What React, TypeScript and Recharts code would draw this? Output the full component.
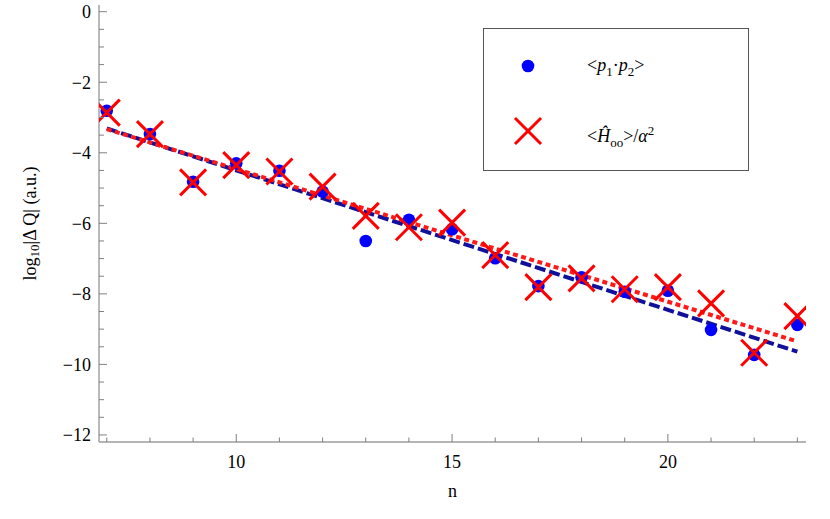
import React from "react";
import { ComposedChart, Legend, Line, Scatter, XAxis, YAxis } from "recharts";

// n values and the two measured quantities (log10 of |ΔQ|)
const nValues = [7, 8, 9, 10, 11, 12, 13, 14, 15, 16, 17, 18, 19, 20, 21, 22, 23];
const p1p2Values = [-2.81, -3.47, -4.82, -4.3, -4.51, -5.1, -6.5, -5.9, -6.17, -6.99, -7.78, -7.53, -7.94, -7.91, -9.02, -9.73, -8.88];
const hooValues = [-2.86, -3.47, -4.84, -4.35, -4.53, -4.96, -5.79, -6.11, -5.98, -6.9, -7.81, -7.56, -7.87, -7.81, -8.27, -9.67, -8.63];

// linear fits, end points only
const fitN = [7, 23];
const p1p2Fit = [-3.31, -9.64];
const hooFit = [-3.33, -9.35];

const xTicks = [7, 8, 9, 10, 11, 12, 13, 14, 15, 16, 17, 18, 19, 20, 21, 22, 23];
const xMajor = [10, 15, 20];
const yTicks = [0, -0.5, -1, -1.5, -2, -2.5, -3, -3.5, -4, -4.5, -5, -5.5, -6, -6.5, -7, -7.5, -8, -8.5, -9, -9.5, -10, -10.5, -11, -11.5, -12];
const yMajor = [0, -2, -4, -6, -8, -10, -12];

const dots = nValues.map((n, i) => ({ n, v: p1p2Values[i] }));
const crosses = nValues.map((n, i) => ({ n, v: hooValues[i] }));
const dotFit = fitN.map((n, i) => ({ n, v: p1p2Fit[i] }));
const crossFit = fitN.map((n, i) => ({ n, v: hooFit[i] }));

const FONT = "Liberation Serif, Times New Roman, DejaVu Serif, serif";
const AXIS = "#9c9c9c";
const TICK = "#808080";

const fmt = (v: number) => (v < 0 ? `\u2212${Math.abs(v)}` : `${v}`);

const txt = { fontFamily: FONT };

const LeftTick = ({ x, y, payload }: any) => {
  const major = yMajor.includes(payload.value);
  return (
    <g>
      <line x1={x} x2={x + (major ? 8 : 5)} y1={y} y2={y} stroke={TICK} />
      {major && (
        <text x={x - 8} y={y} dy="0.35em" textAnchor="end" style={txt} fontSize={18} fill="#000">
          {fmt(payload.value)}
        </text>
      )}
    </g>
  );
};

const RightTick = ({ x, y, payload }: any) => {
  const major = yMajor.includes(payload.value);
  return <line x1={x} x2={x - (major ? 8 : 5)} y1={y} y2={y} stroke={TICK} />;
};

const BottomTick = ({ x, y, payload }: any) => {
  const major = xMajor.includes(payload.value);
  return (
    <g>
      <line x1={x} x2={x} y1={y} y2={y - (major ? 8 : 4.5)} stroke={TICK} />
      {major && (
        <text x={x} y={y + 26} textAnchor="middle" style={txt} fontSize={18} fill="#000">
          {payload.value}
        </text>
      )}
    </g>
  );
};

const TopTick = ({ x, y, payload }: any) => {
  const major = xMajor.includes(payload.value);
  return <line x1={x} x2={x} y1={y} y2={y + (major ? 8 : 4.5)} stroke={TICK} />;
};

const Dot = (props: any) => <circle cx={props.cx} cy={props.cy} r={6.3} fill="#0000ff" />;

const Cross = (props: any) => {
  const { cx, cy } = props;
  const s = 13;
  return (
    <g stroke="#ff0000" strokeWidth={3}>
      <line x1={cx - s} y1={cy - s} x2={cx + s} y2={cy + s} />
      <line x1={cx - s} y1={cy + s} x2={cx + s} y2={cy - s} />
    </g>
  );
};

const YLabel = (props: any) => {
  const vb = props.viewBox;
  const cx = vb.x + 30;
  const cy = vb.y + vb.height / 2;
  return (
    <text transform={`translate(${cx}, ${cy}) rotate(-90)`} textAnchor="middle" dominantBaseline="central" style={txt} fontSize={18} fill="#000">
      log
      <tspan fontSize={13} dy={4}>10</tspan>
      <tspan dy={-4}>|Δ Q| (a.u.)</tspan>
    </text>
  );
};

const XLabel = (props: any) => {
  const vb = props.viewBox;
  return (
    <text x={vb.x + vb.width / 2} y={vb.y + 55} textAnchor="middle" style={txt} fontSize={18} fill="#000">
      n
    </text>
  );
};

const LegendBox = () => (
  <div
    style={{
      position: "relative",
      width: 266,
      height: 143,
      boxSizing: "border-box",
      border: "1.5px solid #555",
      background: "#fff",
      fontFamily: FONT,
      fontSize: 18,
      color: "#000",
    }}
  >
    <svg width={60} height={143} style={{ position: "absolute", left: 14, top: 0 }}>
      <circle cx={30} cy={37} r={6.3} fill="#0000ff" />
      <g stroke="#ff0000" strokeWidth={3}>
        <line x1={17} y1={89} x2={43} y2={115} />
        <line x1={17} y1={115} x2={43} y2={89} />
      </g>
    </svg>
    <div style={{ position: "absolute", left: 103, top: 25, lineHeight: "22px", whiteSpace: "nowrap" }}>
      &lt;<i>p</i>
      <sub style={{ fontSize: 13 }}>1</sub>·<i>p</i>
      <sub style={{ fontSize: 13 }}>2</sub>&gt;
    </div>
    <div style={{ position: "absolute", left: 103, top: 91, lineHeight: "22px", whiteSpace: "nowrap" }}>
      &lt;<i>Ĥ</i>
      <sub style={{ fontSize: 13 }}>oo</sub>&gt;/<i>α</i>
      <sup style={{ fontSize: 13 }}>2</sup>
    </div>
  </div>
);

export default function App() {
  return (
    <div style={{ position: "absolute", left: 0, top: 0, width: 830, height: 519, background: "#fff", fontFamily: FONT }}>
      <ComposedChart width={830} height={519} margin={{ top: 5, right: 24, bottom: 0, left: 0 }}>
        <XAxis
          xAxisId="b"
          dataKey="n"
          type="number"
          domain={[6.82, 23.2]}
          allowDataOverflow
          ticks={xTicks}
          interval={0}
          height={77}
          tickSize={0}
          tickMargin={0}
          axisLine={{ stroke: AXIS, strokeWidth: 1.4 }}
          tickLine={false}
          tick={BottomTick}
          label={{ content: XLabel }}
        />
        <XAxis
          xAxisId="t"
          dataKey="n"
          type="number"
          orientation="top"
          domain={[6.82, 23.2]}
          allowDataOverflow
          ticks={xTicks}
          interval={0}
          height={0}
          tickSize={0}
          tickMargin={0}
          axisLine={{ stroke: AXIS, strokeWidth: 1.4 }}
          tickLine={false}
          tick={TopTick}
        />
        <YAxis
          yAxisId="l"
          type="number"
          domain={[-12.2, 0.19]}
          allowDataOverflow
          ticks={yTicks}
          interval={0}
          width={99}
          tickSize={0}
          tickMargin={0}
          axisLine={{ stroke: AXIS, strokeWidth: 1.4 }}
          tickLine={false}
          tick={LeftTick}
          label={{ content: YLabel }}
        />
        <YAxis
          yAxisId="r"
          orientation="right"
          type="number"
          domain={[-12.2, 0.19]}
          allowDataOverflow
          ticks={yTicks}
          interval={0}
          width={0}
          tickSize={0}
          tickMargin={0}
          axisLine={{ stroke: AXIS, strokeWidth: 1.4 }}
          tickLine={false}
          tick={RightTick}
        />
        <Legend
          layout="horizontal"
          verticalAlign="middle"
          align="center"
          content={LegendBox}
          wrapperStyle={{ left: 483, top: 28, width: 266, height: 143 }}
        />
        <Line
          xAxisId="b"
          yAxisId="l"
          data={dotFit}
          dataKey="v"
          stroke="#10109a"
          strokeWidth={4}
          strokeDasharray="11 4"
          dot={false}
          activeDot={false}
          isAnimationActive={false}
          legendType="none"
        />
        <Line
          xAxisId="b"
          yAxisId="l"
          data={crossFit}
          dataKey="v"
          stroke="#ff1a1a"
          strokeWidth={4}
          strokeDasharray="5 3.5"
          dot={false}
          activeDot={false}
          isAnimationActive={false}
          legendType="none"
        />
        <Scatter xAxisId="b" yAxisId="l" data={dots} dataKey="v" shape={Dot} isAnimationActive={false} />
        <Scatter xAxisId="b" yAxisId="l" data={crosses} dataKey="v" shape={Cross} isAnimationActive={false} />
      </ComposedChart>
    </div>
  );
}
